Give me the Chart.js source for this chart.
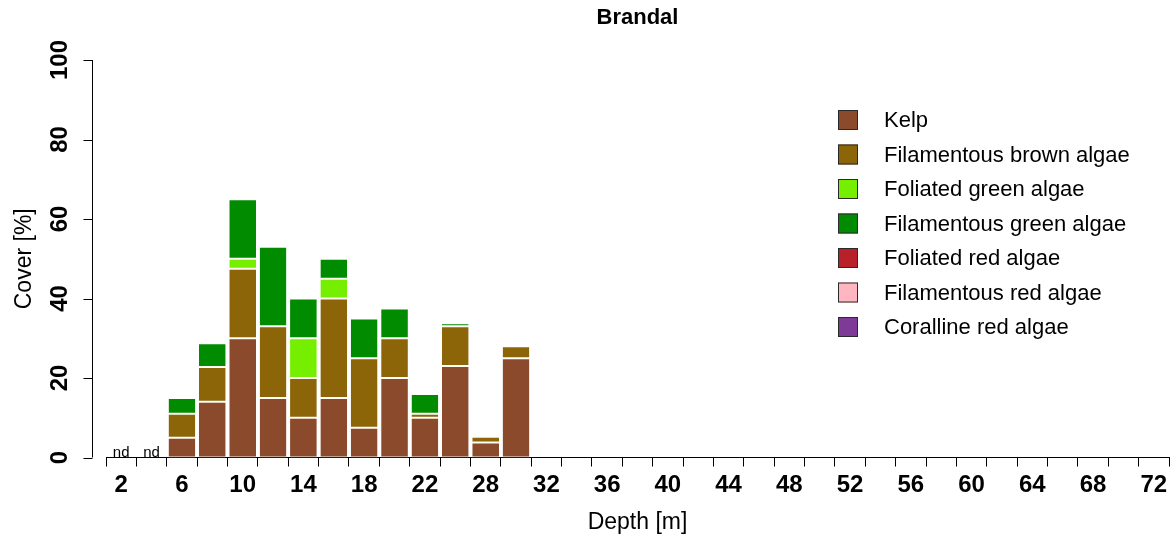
<!DOCTYPE html>
<html>
<head>
<meta charset="utf-8">
<title>Brandal</title>
<script src="https://cdn.jsdelivr.net/npm/chart.js@4/dist/chart.umd.min.js"></script>
<style>
  html, body { margin: 0; padding: 0; background: #ffffff; }
  canvas { display: block; }
</style>
</head>
<body>
<canvas id="chart" width="1173" height="538"></canvas>
<script>
// Depth classes (m); only every second one is labelled on the axis
const depths = ['2','4','6','8','10','12','14','16','18','20','22','25','28','30','32','34','36','38','40','42','44','46','48','50','52','54','56','58','60','62','64','66','68','70','72'];
// Depths without observations, marked "nd"
const noData = ['2','4'];

// Cover (%) per algal group and depth
const kelp           = [null,null,5,14,30,15,10,15,7.5,20,10,23,3.75,25,0,0,0,0,0,0,0,0,0,0,0,0,0,0,0,0,0,0,0,0,0];
const filBrown       = [null,null,6,8.75,17.5,18,10,25,17.5,10,1,10,1.5,3,0,0,0,0,0,0,0,0,0,0,0,0,0,0,0,0,0,0,0,0,0];
const folGreen       = [null,null,0,0,2.5,0,10,5,0,0,0,0,0,0,0,0,0,0,0,0,0,0,0,0,0,0,0,0,0,0,0,0,0,0,0];
const filGreen       = [null,null,4,6,15,20,10,5,10,7.5,5,0.75,0,0,0,0,0,0,0,0,0,0,0,0,0,0,0,0,0,0,0,0,0,0,0];
const folRed         = [null,null,0,0,0,0,0,0,0,0,0,0,0,0,0,0,0,0,0,0,0,0,0,0,0,0,0,0,0,0,0,0,0,0,0];
const filRed         = [null,null,0,0,0,0,0,0,0,0,0,0,0,0,0,0,0,0,0,0,0,0,0,0,0,0,0,0,0,0,0,0,0,0,0];
const coralline      = [null,null,0,0,0,0,0,0,0,0,0,0,0,0,0,0,0,0,0,0,0,0,0,0,0,0,0,0,0,0,0,0,0,0,0];

const groupNames = ['Kelp','Filamentous brown algae','Foliated green algae','Filamentous green algae','Foliated red algae','Filamentous red algae','Coralline red algae'];
const groupColors = ['#8B4A2B','#8B6508','#76EE00','#008B00','#B8202A','#FFB6C1','#7D3A96'];
const yTicks = [0,20,40,60,80,100];

const FONT = '"Liberation Sans", Arial, Helvetica, sans-serif';
const seriesValues = [kelp, filBrown, folGreen, filGreen, folRed, filRed, coralline];

const datasets = seriesValues.map((vals, i) => ({
  label: groupNames[i],
  data: vals,
  backgroundColor: groupColors[i],
  borderColor: '#fffdf5',
  borderWidth: { top: 1, bottom: 1, left: 0, right: 0 },
  borderSkipped: false,
  barPercentage: 0.88,
  categoryPercentage: 1.0,
  stack: 'cover'
}));

// Draws the offset y axis, the "nd" markers and the legend box
const sideElements = {
  id: 'sideElements',
  afterDraw(chart) {
    const { ctx, scales: { x, y } } = chart;
    const axisX = Math.round(x.left - 14) + 0.5;
    ctx.save();
    ctx.strokeStyle = '#000';
    ctx.lineWidth = 1;
    ctx.beginPath();
    ctx.moveTo(axisX, y.getPixelForValue(0));
    ctx.lineTo(axisX, y.getPixelForValue(100));
    yTicks.forEach(v => {
      const py = Math.round(y.getPixelForValue(v)) + 0.5;
      ctx.moveTo(axisX - 9, py);
      ctx.lineTo(axisX, py);
    });
    ctx.stroke();

    ctx.fillStyle = '#000';
    ctx.font = 'bold 24px ' + FONT;
    ctx.textAlign = 'center';
    ctx.textBaseline = 'alphabetic';
    yTicks.forEach(v => {
      ctx.save();
      ctx.translate(axisX - 26, y.getPixelForValue(v));
      ctx.rotate(-Math.PI / 2);
      ctx.fillText(String(v), 0, 0);
      ctx.restore();
    });

    ctx.font = '15px ' + FONT;
    noData.forEach(d => {
      const idx = depths.indexOf(d);
      ctx.fillText('nd', x.getPixelForValue(idx), y.getPixelForValue(0) - 1);
    });

    ctx.font = '22px ' + FONT;
    ctx.textAlign = 'left';
    ctx.textBaseline = 'middle';
    chart.data.datasets.forEach((ds, i) => {
      const cy = 120 + 34.5 * i;
      ctx.fillStyle = ds.backgroundColor;
      ctx.fillRect(838, cy - 10, 20, 20);
      ctx.strokeStyle = '#2a2a2a';
      ctx.strokeRect(838.5, cy - 9.5, 19, 19);
      ctx.fillStyle = '#000';
      ctx.fillText(ds.label, 884, cy + 1);
    });
    ctx.restore();
  }
};

new Chart(document.getElementById('chart'), {
  type: 'bar',
  data: { labels: depths, datasets },
  plugins: [sideElements],
  options: {
    responsive: false,
    animation: false,
    layout: { padding: { left: 0, right: 4, top: 0, bottom: 0 } },
    plugins: {
      legend: { display: false },
      tooltip: { enabled: false },
      title: {
        display: true,
        text: 'Brandal',
        fullSize: false,
        color: '#000',
        font: { family: FONT, size: 22, weight: 'bold' },
        padding: { top: 5, bottom: 28.6 }
      }
    },
    scales: {
      x: {
        stacked: true,
        offset: true,
        grid: { display: true, drawOnChartArea: false, drawTicks: true, tickLength: 9, color: '#000', offset: true },
        border: { display: true, color: '#000', width: 1 },
        ticks: {
          autoSkip: false,
          maxRotation: 0,
          minRotation: 0,
          padding: 4,
          color: '#000',
          font: { family: FONT, size: 24, weight: 'bold' },
          callback: function (value, index) { return index % 2 === 0 ? this.getLabelForValue(value) : ''; }
        },
        title: {
          display: true,
          text: 'Depth [m]',
          color: '#000',
          font: { family: FONT, size: 23 },
          padding: { top: 0, bottom: 2 }
        },
        afterFit(scale) { scale.height = 80.5; }
      },
      y: {
        stacked: true,
        min: 0,
        max: 100,
        ticks: { display: false, stepSize: 20 },
        grid: { display: false },
        border: { display: false },
        title: {
          display: true,
          text: 'Cover [%]',
          color: '#000',
          font: { family: FONT, size: 23 },
          padding: { top: 11, bottom: 0 }
        },
        afterFit(scale) { scale.width = 106; }
      }
    }
  }
});
</script>
</body>
</html>
